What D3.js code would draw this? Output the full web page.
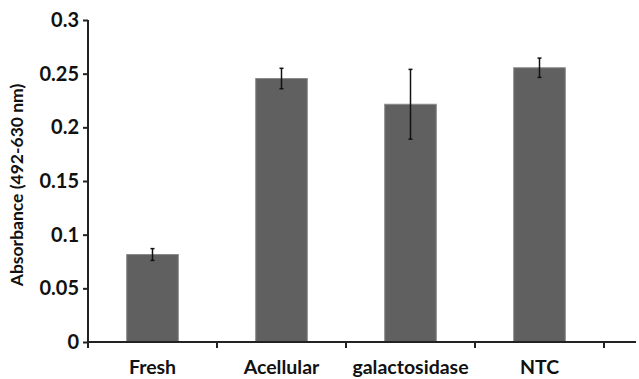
<!DOCTYPE html>
<html>
<head>
<meta charset="utf-8">
<script src="https://cdn.jsdelivr.net/npm/d3@7/dist/d3.min.js"></script>
<style>
  html, body { margin: 0; padding: 0; background: #fff; }
  svg { display: block; }
  text { font-family: Lato, "Open Sans", sans-serif; font-weight: 700; fill: #111; }
</style>
</head>
<body>
<svg id="chart" width="639" height="379"></svg>
<script>
// Absorbance per sample group, with error bar half-widths
const categories = ["Fresh", "Acellular", "galactosidase", "NTC"];
const values = [0.0815, 0.2455, 0.2215, 0.2555];
const errors = [0.0055, 0.0095, 0.0325, 0.0090];
const yTicks = [0, 0.05, 0.1, 0.15, 0.2, 0.25, 0.3];
const yTitle = "Absorbance (492-630 nm)";

const svg = d3.select("#chart");
const margin = { left: 88, right: 35, top: 20, bottom: 37 };
const W = 639, H = 379;

const x = d3.scaleBand()
  .domain(categories)
  .range([margin.left, 604])
  .paddingInner(0)
  .paddingOuter(0);

const y = d3.scaleLinear()
  .domain([0, 0.3])
  .range([H - margin.bottom, margin.top]);

const barW = x.bandwidth() * 0.4;

// bars
svg.append("g").selectAll("rect")
  .data(categories)
  .join("rect")
  .attr("x", d => x(d) + x.bandwidth() / 2 - barW / 2)
  .attr("y", (d, i) => y(values[i]))
  .attr("width", barW)
  .attr("height", (d, i) => y(0) - y(values[i]))
  .attr("fill", "#606060")
  .attr("stroke", "#8a8a8a")
  .attr("stroke-width", 1);

// error bars
const eg = svg.append("g").attr("stroke", "#111").attr("stroke-width", 1.5);
categories.forEach((c, i) => {
  const cx = x(c) + x.bandwidth() / 2;
  const lo = y(values[i] - errors[i]);
  const hi = y(values[i] + errors[i]);
  eg.append("line").attr("x1", cx).attr("x2", cx).attr("y1", lo).attr("y2", hi);
  eg.append("line").attr("x1", cx - 2).attr("x2", cx + 2).attr("y1", lo).attr("y2", lo);
  eg.append("line").attr("x1", cx - 2).attr("x2", cx + 2).attr("y1", hi).attr("y2", hi);
});

// y axis
const yAxis = d3.axisLeft(y)
  .tickValues(yTicks)
  .tickFormat(d => d3.format("")(+d.toFixed(2)))
  .tickSize(5)
  .tickPadding(4)
  .tickSizeOuter(0);
const yg = svg.append("g")
  .attr("transform", `translate(${margin.left},0)`)
  .call(yAxis);
yg.select(".domain").attr("stroke", "#222").attr("stroke-width", 2)
  .attr("d", `M0,${y(0.3)}V${y(0) + 1}`);
yg.selectAll(".tick line").attr("stroke", "#222").attr("stroke-width", 2);
yg.selectAll(".tick text").attr("font-size", 20).attr("font-family", "Lato, sans-serif").attr("font-weight", 700).attr("fill", "#111");

// x axis with ticks on category boundaries
const xg = svg.append("g").attr("transform", `translate(0,${y(0)})`);
xg.append("line")
  .attr("x1", margin.left).attr("x2", 636)
  .attr("stroke", "#222").attr("stroke-width", 2);
const bounds = categories.map(c => x(c)).concat([x(categories[categories.length - 1]) + x.bandwidth()]);
xg.selectAll("line.sep")
  .data(bounds)
  .join("line")
  .attr("class", "sep")
  .attr("x1", d => d).attr("x2", d => d)
  .attr("y1", 0).attr("y2", 6)
  .attr("stroke", "#222").attr("stroke-width", 2);
xg.selectAll("text")
  .data(categories)
  .join("text")
  .attr("x", d => x(d) + x.bandwidth() / 2)
  .attr("y", 32)
  .attr("text-anchor", "middle")
  .attr("font-size", 19.5)
  .text(d => d);

// y axis title
svg.append("text")
  .attr("transform", `translate(23,${(y(0) + y(0.3)) / 2 + 4}) rotate(-90)`)
  .attr("text-anchor", "middle")
  .attr("font-size", 17.5)
  .text(yTitle);
</script>
</body>
</html>
